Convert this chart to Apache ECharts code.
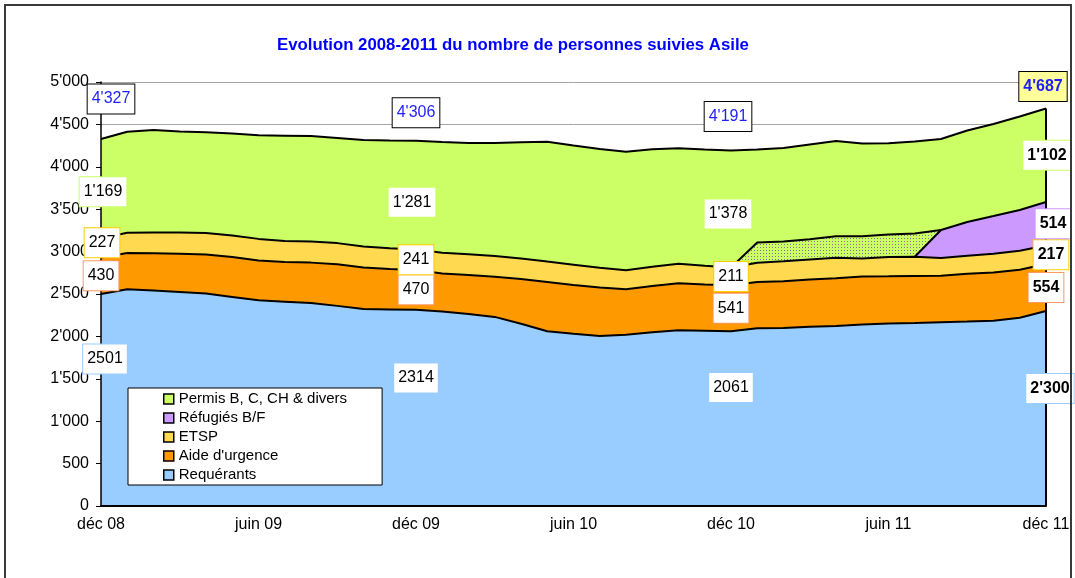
<!DOCTYPE html>
<html>
<head>
<meta charset="utf-8">
<script src="https://cdn.jsdelivr.net/npm/echarts@6/dist/echarts.min.js"></script>
<style>
  html, body { margin: 0; padding: 0; background: #fff; }
  #chart { width: 1075px; height: 578px; }
</style>
</head>
<body>
<div id="chart"></div>
<script>
// monthly points, déc 08 .. déc 11
const months = [
  "déc 08", "janv 09", "févr 09", "mars 09", "avr 09", "mai 09", "juin 09", "juil 09", "août 09", "sept 09", "oct 09", "nov 09",
  "déc 09", "janv 10", "févr 10", "mars 10", "avr 10", "mai 10", "juin 10", "juil 10", "août 10", "sept 10", "oct 10", "nov 10",
  "déc 10", "janv 11", "févr 11", "mars 11", "avr 11", "mai 11", "juin 11", "juil 11", "août 11", "sept 11", "oct 11", "nov 11",
  "déc 11"
];

const requerants = [2501, 2555, 2540, 2525, 2505, 2465, 2425, 2410, 2395, 2360, 2322, 2318,
  2314, 2294, 2265, 2230, 2150, 2060, 2030, 2005, 2020, 2050, 2072, 2068,
  2061, 2095, 2098, 2115, 2122, 2140, 2152, 2158, 2168, 2175, 2185, 2220, 2300];
const aideUrgence = [430, 428, 440, 450, 460, 470, 470, 468, 475, 490, 490, 478,
  470, 448, 459, 474, 527, 582, 576, 572, 535, 544, 554, 544,
  541, 546, 553, 556, 565, 565, 556, 555, 546, 565, 568, 565, 554];
const etsp = [227, 240, 245, 250, 255, 255, 255, 247, 250, 250, 248, 244,
  241, 245, 245, 245, 242, 240, 240, 232, 225, 228, 232, 222,
  211, 228, 235, 236, 240, 215, 228, 226, 210, 210, 222, 226, 217];
const refugies = [null, null, null, null, null, null, null, null, null, null, null, null,
  null, null, null, null, null, null, null, null, null, null, null, null,
  null, null, null, null, null, null, null, 0, 330, 400, 445, 480, 514];
// hatched band (réfugiés not yet split out), not in the legend
const refugiesHachure = [null, null, null, null, null, null, null, null, null, null, null, null,
  null, null, null, null, null, null, null, null, null, null, null, null,
  0, 238, 232, 240, 255, 262, 265, 275, 0, null, null, null, null];
const permis = [1169, 1191, 1209, 1191, 1187, 1203, 1221, 1242, 1243, 1240, 1256, 1270,
  1281, 1305, 1312, 1332, 1370, 1414, 1404, 1401, 1398, 1384, 1360, 1370,
  1378, 1097, 1104, 1116, 1122, 1093, 1076, 1084, 1074, 1078, 1085, 1102, 1102];

// value boxes shown at déc 08, déc 09, déc 10, déc 11
const labelMonths = [0, 12, 24, 36];
const requerantsLabels = ["2501", "2314", "2061", "2'300"];
const aideLabels = ["430", "470", "541", "554"];
const etspLabels = ["227", "241", "211", "217"];
const refugiesLabels = [null, null, null, "514"];
const permisLabels = ["1'169", "1'281", "1'378", "1'102"];
const totalLabels = ["4'327", "4'306", "4'191", "4'687"];

const FONT = "Liberation Sans, Arial, sans-serif";

function hatch() {
  const c = document.createElement("canvas");
  c.width = 3;
  c.height = 3;
  const g = c.getContext("2d");
  g.fillStyle = "#ccff66";
  g.fillRect(0, 0, 3, 3);
  g.fillStyle = "#847692";
  g.fillRect(1, 1, 1, 1);
  return c;
}

const layers = [
  { name: "Requérants", data: requerants, fill: "#99ccff", edge: "#99ccff" },
  { name: "Aide d'urgence", data: aideUrgence, fill: "#ff9900", edge: "#ff9966" },
  { name: "ETSP", data: etsp, fill: "#ffd94f", edge: "#ffcc00" },
  { name: "Réfugiés B/F", data: refugies, fill: "#cc99ff", edge: "#cc99ff" },
  { name: "hachure", data: refugiesHachure, fill: { image: hatch(), repeat: "repeat" }, edge: "#000" },
  { name: "Permis B, C, CH & divers", data: permis, fill: "#ccff66", edge: "#ccff66" },
];

function below(k, i) {
  let s = 0;
  for (let j = 0; j < k; j++) s += layers[j].data[i] || 0;
  return s;
}
const totalAt = (i) => below(layers.length, i);

function yLabel(v) {
  if (v < 1000) return String(v);
  return Math.floor(v / 1000) + "'" + String(v % 1000).padStart(3, "0");
}

function boxLabel(extra) {
  return Object.assign({
    show: true,
    position: "inside",
    color: "#000",
    fontFamily: FONT,
    fontSize: 16,
    lineHeight: 16,
    backgroundColor: "#fff",
    borderWidth: 1,
    padding: [7, 4, 6, 4],
  }, extra);
}

const hiddenDot = { color: "rgba(0,0,0,0)", opacity: 1 };

function labelSeries(k, texts, shifts) {
  const items = [];
  labelMonths.forEach((m, j) => {
    if (texts[j] == null) return;
    items.push({
      value: [m, below(k, m) + layers[k].data[m] / 2],
      label: {
        formatter: texts[j],
        offset: shifts ? shifts[j] : [0, 0],
        fontWeight: j === 3 ? "bold" : "normal",
      },
    });
  });
  return {
    type: "scatter", z: 8, silent: true, symbolSize: 1,
    itemStyle: hiddenDot,
    label: boxLabel({ borderColor: layers[k].edge }),
    data: items,
  };
}

const areaSeries = layers.map((l) => ({
  name: l.name,
  type: "line",
  stack: "total",
  symbol: "none",
  silent: true,
  data: l.data,
  lineStyle: { width: 0 },
  itemStyle: { color: typeof l.fill === "string" ? l.fill : "#ccff66" },
  areaStyle: { color: l.fill, opacity: 1 },
  z: 2,
}));

const outlineSeries = layers.map((l, k) => ({
  name: l.name + " contour",
  type: "line",
  stack: "contour",
  symbol: "none",
  silent: true,
  data: l.data,
  lineStyle: { color: "#000", width: 2 },
  z: 3,
  markLine: k === layers.length - 1 ? {
    symbol: ["none", "none"],
    silent: true,
    label: { show: false },
    lineStyle: { color: "#000", width: 2, type: "solid" },
    data: [[{ coord: [36, 0] }, { coord: [36, totalAt(36)] }]],
  } : undefined,
}));

const totalSeries = {
  type: "scatter", z: 8, silent: true, symbolSize: 1,
  itemStyle: hiddenDot,
  label: boxLabel({ color: "#1f1fff", borderColor: "#000" }),
  data: labelMonths.map((m, j) => ({
    value: [m, totalAt(m)],
    label: {
      formatter: totalLabels[j],
      offset: [[10, -40], [0, -28], [-3, -34], [-3, -22]][j],
      fontWeight: j === 3 ? "bold" : "normal",
      backgroundColor: j === 3 ? "#ffff99" : "#fff",
    },
  })),
};

const chart = echarts.init(document.getElementById("chart"), null, { renderer: "canvas" });
chart.setOption({
  animation: false,
  backgroundColor: "#fff",
  title: {
    text: "Evolution 2008-2011 du nombre de personnes suivies Asile",
    left: 277,
    top: 37,
    padding: 0,
    textStyle: { color: "#0000ff", fontSize: 16.8, fontWeight: "bold", fontFamily: FONT },
  },
  graphic: [{
    type: "rect", silent: true, z: 100,
    shape: { x: 5, y: 5, width: 1066, height: 600 },
    style: { fill: "none", stroke: "#3a3a3a", lineWidth: 2 },
  }],
  legend: {
    orient: "vertical",
    left: 128,
    top: 388,
    data: ["Permis B, C, CH & divers", "Réfugiés B/F", "ETSP", "Aide d'urgence", "Requérants"],
    icon: "rect",
    itemWidth: 10,
    itemHeight: 10,
    itemGap: 3,
    padding: [3, 35, 2, 35],
    backgroundColor: "#fff",
    borderColor: "#000",
    borderWidth: 1,
    selectedMode: false,
    itemStyle: { borderColor: "#000", borderWidth: 1.5 },
    textStyle: { color: "#000", fontSize: 15, lineHeight: 16, fontFamily: FONT },
    z: 9,
  },
  grid: { left: 101, right: 29, top: 82, bottom: 72 },
  xAxis: {
    type: "category",
    data: months,
    boundaryGap: false,
    z: 5,
    axisLine: { lineStyle: { color: "#000", width: 2 } },
    axisTick: { show: false },
    axisLabel: { interval: 5, color: "#000", fontSize: 16, fontFamily: FONT, margin: 11 },
    splitLine: { show: false },
  },
  yAxis: [{
    type: "value",
    min: 0,
    max: 5000,
    interval: 500,
    axisLine: { show: false },
    axisTick: { show: true, length: 5, lineStyle: { color: "#000" } },
    axisLabel: { color: "#000", fontSize: 16, fontFamily: FONT, margin: 12, formatter: yLabel },
    splitLine: { lineStyle: { color: "#a6a6a6", width: 1 } },
  }, {
    // axis line redrawn above the filled areas
    type: "value",
    position: "left",
    min: 0,
    max: 5000,
    interval: 500,
    z: 5,
    axisLine: { show: true, lineStyle: { color: "#000", width: 1.5 } },
    axisTick: { show: false },
    axisLabel: { show: false },
    splitLine: { show: false },
  }],
  series: [
    ...areaSeries,
    ...outlineSeries,
    labelSeries(0, requerantsLabels, [[4, -41], [0, -30], [0, -31], [4, -20]]),
    labelSeries(1, aideLabels),
    labelSeries(2, etspLabels, [[1, -5], [0, 0], [0, 0], [5, 0]]),
    labelSeries(3, refugiesLabels, [0, 0, 0, [7, 0]]),
    labelSeries(5, permisLabels, [[2, 3], [-4, 7], [-3, 5], [1, 0]]),
    totalSeries,
  ],
});
</script>
</body>
</html>
